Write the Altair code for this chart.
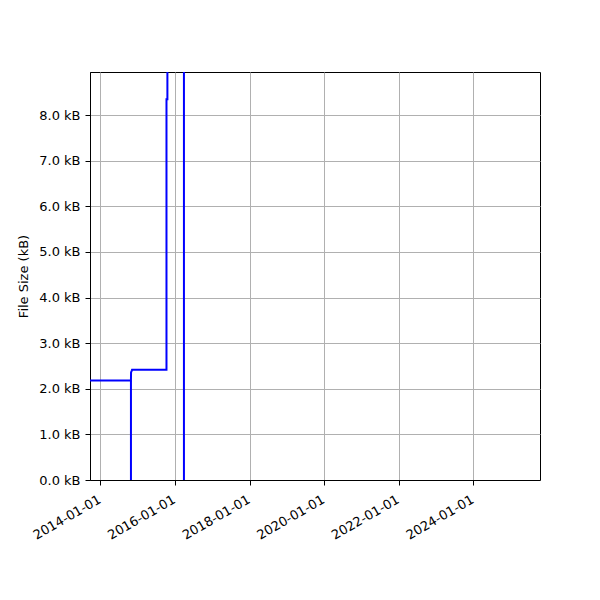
import altair as alt
import pandas as pd

# series values (kB) and dates
series = ["a", "a", "a", "a", "a", "a", "a", "a", "a", "b", "b", "c", "c"]
dates = ["2013-09-01", "2014-10-27", "2014-10-28", "2014-11-04", "2014-11-07",
         "2015-10-10", "2015-10-10", "2015-10-19", "2015-10-19",
         "2014-10-27", "2014-10-27",
         "2016-03-29", "2016-03-29"]
sizes = [2.18, 2.18, 2.36, 2.40, 2.42, 2.42, 8.35, 8.35, 9.6,
         0.0, 2.18,
         0.0, 9.6]
order = list(range(len(series)))

tick_dates = ["2014-01-01", "2016-01-01", "2018-01-01", "2020-01-01", "2022-01-01", "2024-01-01"]
y_ticks = [0, 1, 2, 3, 4, 5, 6, 7, 8]

df = pd.DataFrame({"series": series, "date": pd.to_datetime(dates), "size": sizes, "order": order})

x_vals = [alt.DateTime(year=int(d[:4]), month=1, date=1) for d in tick_dates]

chart = alt.Chart(df).mark_line(color="blue", strokeWidth=2, clip=True).encode(
    x=alt.X("date:T",
            scale=alt.Scale(domain=[alt.DateTime(year=2013, month=9, date=21),
                                    alt.DateTime(year=2025, month=10, date=15)], nice=False),
            axis=alt.Axis(values=x_vals, format="%Y-%m-%d", labelAngle=330, labelAlign="right",
                          labelBaseline="top", title=None, grid=True,
                          labelPadding=8, labelOffset=-4)),
    y=alt.Y("size:Q", scale=alt.Scale(domain=[0, 8.947], nice=False, zero=False),
            axis=alt.Axis(values=y_ticks, labelExpr="format(datum.value, '.1f') + ' kB'",
                          title="File Size (kB)", grid=True, labelPadding=5)),
    detail="series:N",
    order="order:Q",
).properties(
    width=450, height=408,
    background="white",
    autosize=alt.AutoSizeParams(type="none"),
    padding={"left": 82, "top": 64, "right": 52, "bottom": 112},
).configure_view(stroke="black", strokeWidth=1).configure_axis(
    labelFont="DejaVu Sans", titleFont="DejaVu Sans", labelFontSize=13, titleFontSize=13,
    labelColor="black", titleColor="black", titleFontWeight="normal",
    domainColor="black", tickColor="black", tickSize=5, gridColor="#b0b0b0", gridWidth=1,
    titlePadding=8,
)

chart.save("out.html", embed_options={"renderer": "svg", "actions": False})
